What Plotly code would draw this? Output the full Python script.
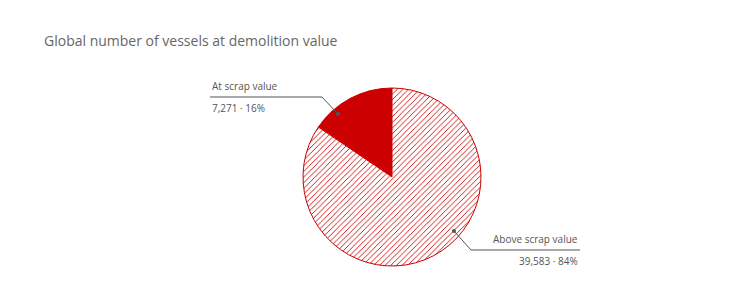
import plotly.graph_objects as go

W, H = 755, 296
labels = ["At scrap value", "Above scrap value"]
values = [7271, 39583]
pct_text = ["16%", "84%"]
title = "Global number of vessels at demolition value"

RED = "#cc0000"

def px(x):
    return x / W

def py(y):
    return 1 - y / H

share0 = values[0] / sum(values)

fig = go.Figure()
fig.add_trace(go.Pie(
    labels=labels, values=values, sort=False, direction="clockwise",
    rotation=-360 * share0, textinfo="none", hoverinfo="label+value+percent",
    marker=dict(colors=[RED, "white"], line=dict(color=RED, width=1),
                pattern=dict(shape=["", "/"], fgcolor=RED, bgcolor="white",
                             size=4, solidity=0.22)),
    domain=dict(x=[px(303), px(481)], y=[py(266), py(88)]),
    showlegend=False,
))

shapes = []
annotations = []
# connectors: (dot, elbow, end) in pixels
conn = [((338, 114), (322, 97), (210, 97), "left"),
        ((454, 231), (471, 250), (580, 250), "right")]
for i, (dot, elb, end, side) in enumerate(conn):
    shapes.append(dict(type="path", xref="paper", yref="paper",
                       path=f"M {px(dot[0])},{py(dot[1])} L {px(elb[0])},{py(elb[1])} L {px(end[0])},{py(end[1])}",
                       line=dict(color="#555555", width=1)))
    shapes.append(dict(type="circle", xref="paper", yref="paper",
                       x0=px(dot[0] - 2), x1=px(dot[0] + 2), y0=py(dot[1] + 2), y1=py(dot[1] - 2),
                       fillcolor="#555555", line=dict(width=0)))
    xanchor = "left" if side == "left" else "right"
    annotations.append(dict(xref="paper", yref="paper", x=px(end[0]), y=py(end[1] - 2),
                            text=labels[i], showarrow=False, xanchor=xanchor, yanchor="bottom",
                            font=dict(size=10, color="#555555", family="Open Sans")))
    annotations.append(dict(xref="paper", yref="paper", x=px(end[0]), y=py(end[1] + 2),
                            text=f"{values[i]:,} · {pct_text[i]}", showarrow=False,
                            xanchor=xanchor, yanchor="top",
                            font=dict(size=10, color="#555555", family="Open Sans")))

annotations.append(dict(xref="paper", yref="paper", x=px(42), y=py(41), text=title,
                        showarrow=False, xanchor="left", yanchor="middle",
                        font=dict(size=14, color="#666666", family="Open Sans")))

fig.update_layout(width=W, height=H, margin=dict(l=0, r=0, t=0, b=0),
                  paper_bgcolor="white", plot_bgcolor="white",
                  shapes=shapes, annotations=annotations)
fig.write_html("out.html")
